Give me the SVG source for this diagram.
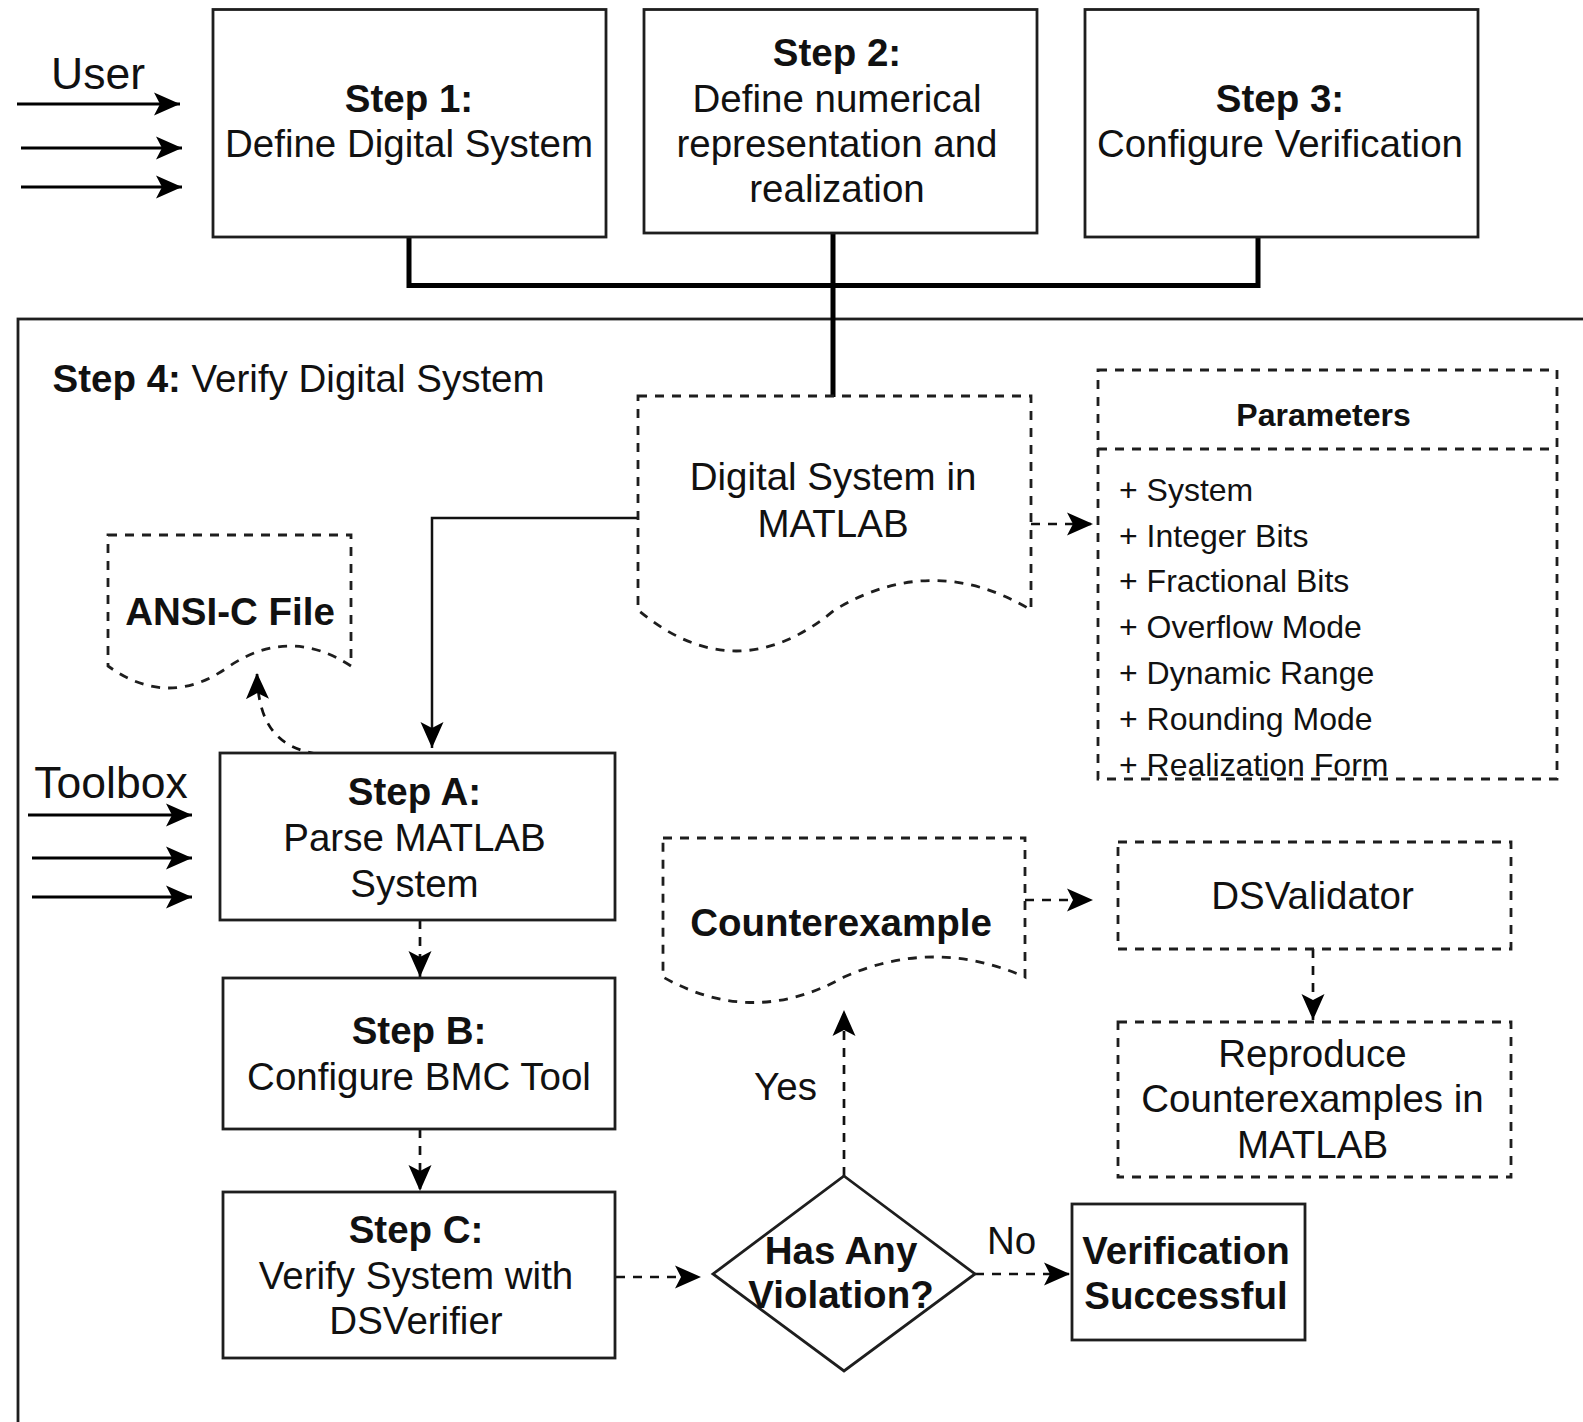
<svg xmlns="http://www.w3.org/2000/svg" width="1583" height="1422" viewBox="0 0 1583 1422">
<defs>
<style>
.box{fill:#fff;stroke:#1e1e1e;stroke-width:2.8}
.dbox{fill:none;stroke:#1e1e1e;stroke-width:2.8;stroke-dasharray:9 8}
.t{font-family:"Liberation Sans",Arial,Helvetica,sans-serif;font-size:38.5px;fill:#111;text-anchor:middle}
.b{font-weight:bold}
.l{text-anchor:start}
.s{font-size:32px}
.big{font-size:44.5px}
.conn{fill:none;stroke:#111;stroke-width:2.5}
.dconn{fill:none;stroke:#111;stroke-width:2.7;stroke-dasharray:9 8}
.bus{fill:none;stroke:#000;stroke-width:5}
.in{fill:none;stroke:#000;stroke-width:3.2}
</style>
<marker id="ah" markerUnits="userSpaceOnUse" markerWidth="28" markerHeight="26" viewBox="0 0 28 26" refX="26" refY="13" orient="auto">
<path d="M0,1.5 L26,13 L0,24.5 L6,13 Z" fill="#000"/>
</marker>
</defs>
<rect width="1583" height="1422" fill="#fff"/>

<g id="step4-container">
<rect x="18" y="319" width="1600" height="1200" class="box"/>
<text x="52.5" y="392" class="t l"><tspan class="b">Step 4:</tspan> Verify Digital System</text>
</g>

<g id="user-input">
<text x="98" y="89" class="t big">User</text>
</g>
<g id="toolbox-input">
<text x="111" y="798" class="t big">Toolbox</text>
</g>

<g id="connectors">
<path d="M17,104 H180" class="in" marker-end="url(#ah)"/>
<path d="M21,148 H182" class="in" marker-end="url(#ah)"/>
<path d="M21,187 H182" class="in" marker-end="url(#ah)"/>
<path d="M28,815 H192" class="in" marker-end="url(#ah)"/>
<path d="M32,858 H192" class="in" marker-end="url(#ah)"/>
<path d="M32,897 H192" class="in" marker-end="url(#ah)"/>
<path d="M409,237 V285.5 H1258 V237" class="bus"/>
<path d="M833,233 V397" class="bus"/>
<path d="M638,518 H432 V748" class="conn" marker-end="url(#ah)"/>
<path d="M1031,524 H1093" class="dconn" marker-end="url(#ah)"/>
<path d="M317,754 C282,748 258,730 257,673" class="dconn" marker-end="url(#ah)"/>
<path d="M420,920 V977" class="dconn" marker-end="url(#ah)"/>
<path d="M420,1129 V1191" class="dconn" marker-end="url(#ah)"/>
<path d="M616,1277 H701" class="dconn" marker-end="url(#ah)"/>
<path d="M975,1274 H1070" class="dconn" marker-end="url(#ah)"/>
<path d="M844,1176 V1010" class="dconn" marker-end="url(#ah)"/>
<path d="M1025,900 H1093" class="dconn" marker-end="url(#ah)"/>
<path d="M1313,949 V1020" class="dconn" marker-end="url(#ah)"/>
<text x="1011.5" y="1253.5" class="t">No</text>
<text x="785.5" y="1099.5" class="t">Yes</text>
</g>

<g id="step1">
<rect x="213" y="9.5" width="393" height="227.5" class="box"/>
<text x="409" y="111.5" class="t b">Step 1:</text>
<text x="409" y="157" class="t">Define Digital System</text>
</g>
<g id="step2">
<rect x="644" y="9.5" width="393" height="223.5" class="box"/>
<text x="837" y="66" class="t b">Step 2:</text>
<text x="837" y="111.5" class="t">Define numerical</text>
<text x="837" y="157" class="t">representation and</text>
<text x="837" y="202" class="t">realization</text>
</g>
<g id="step3">
<rect x="1085" y="9.5" width="393" height="227.5" class="box"/>
<text x="1280" y="111.5" class="t b">Step 3:</text>
<text x="1280" y="157" class="t">Configure Verification</text>
</g>

<g id="digital-system-doc">
<path d="M638,396 H1031 V610 Q933,551 834.5,610 Q736,692 638,610 Z" class="dbox"/>
<text x="833" y="490" class="t">Digital System in</text>
<text x="833" y="536.5" class="t">MATLAB</text>
</g>

<g id="parameters">
<rect x="1098" y="370" width="459" height="409" class="dbox"/>
<path d="M1098,449 H1557" class="dbox"/>
<text x="1323.5" y="425.5" class="t b s">Parameters</text>
<text x="1119" y="501" class="t l s">+ System</text>
<text x="1119" y="546.5" class="t l s">+ Integer Bits</text>
<text x="1119" y="592" class="t l s">+ Fractional Bits</text>
<text x="1119" y="637.5" class="t l s">+ Overflow Mode</text>
<text x="1119" y="683.5" class="t l s">+ Dynamic Range</text>
<text x="1119" y="729.5" class="t l s">+ Rounding Mode</text>
<text x="1119" y="775.5" class="t l s">+ Realization Form</text>
</g>

<g id="ansi-c-file">
<path d="M108,535 H351 V666 Q290,626 229.5,666 Q169,710 108,666 Z" class="dbox"/>
<text x="230" y="624.5" class="t b">ANSI-C File</text>
</g>

<g id="stepA">
<rect x="220" y="753" width="395" height="167" class="box"/>
<text x="414.5" y="805" class="t b">Step A:</text>
<text x="414.5" y="850.5" class="t">Parse MATLAB</text>
<text x="414.5" y="897" class="t">System</text>
</g>
<g id="stepB">
<rect x="223" y="978" width="392" height="151" class="box"/>
<text x="419" y="1043.5" class="t b">Step B:</text>
<text x="419" y="1089.5" class="t">Configure BMC Tool</text>
</g>
<g id="stepC">
<rect x="223" y="1192" width="392" height="166" class="box"/>
<text x="416" y="1243" class="t b">Step C:</text>
<text x="416" y="1288.5" class="t">Verify System with</text>
<text x="416" y="1334" class="t">DSVerifier</text>
</g>

<g id="violation-decision">
<path d="M844,1176 L975,1274 L844,1371 L713,1274 Z" class="box"/>
<text x="841" y="1263.5" class="t b">Has Any</text>
<text x="841" y="1307.5" class="t b">Violation?</text>
</g>

<g id="verification-successful">
<rect x="1072" y="1204" width="233" height="136" class="box"/>
<text x="1186" y="1263.5" class="t b">Verification</text>
<text x="1186" y="1309" class="t b">Successful</text>
</g>

<g id="counterexample-doc">
<path d="M663,838 H1025 V977 Q934,937 844,977 Q753,1028 663,977 Z" class="dbox"/>
<text x="841" y="935.5" class="t b">Counterexample</text>
</g>

<g id="dsvalidator">
<rect x="1118" y="842" width="393" height="107" class="dbox"/>
<text x="1312.5" y="909" class="t">DSValidator</text>
</g>

<g id="reproduce">
<rect x="1118" y="1022" width="393" height="155" class="dbox"/>
<text x="1312.5" y="1066.5" class="t">Reproduce</text>
<text x="1312.5" y="1112" class="t">Counterexamples in</text>
<text x="1312.5" y="1157.5" class="t">MATLAB</text>
</g>
</svg>
